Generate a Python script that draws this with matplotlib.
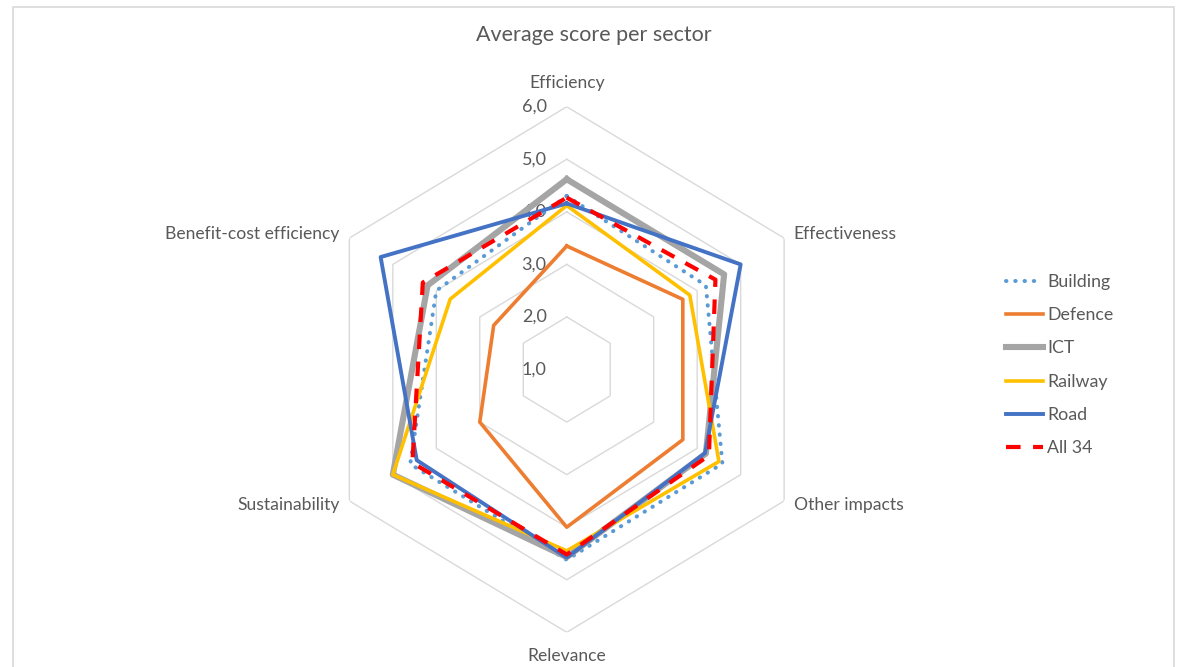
import numpy as np
import matplotlib.pyplot as plt
from matplotlib.patches import Rectangle

plt.rcParams['font.family'] = ['Lato', 'DejaVu Sans']

categories = ['Efficiency', 'Effectiveness', 'Other impacts', 'Relevance',
              'Sustainability', 'Benefit-cost efficiency']
building = [4.30, 4.20, 4.58, 4.62, 4.60, 4.00]
defence = [3.35, 3.67, 3.67, 4.00, 3.00, 2.68]
ict = [4.62, 4.62, 4.20, 4.57, 5.00, 4.20]
railway = [4.12, 3.83, 4.50, 4.45, 5.00, 3.68]
road = [4.16, 5.00, 4.18, 4.58, 4.45, 5.28]
all34 = [4.27, 4.42, 4.27, 4.52, 4.55, 4.31]
ticks = [1.0, 2.0, 3.0, 4.0, 5.0, 6.0]

text_color = '#595959'
grid_color = '#d9d9d9'

fig = plt.figure(figsize=(11.78, 6.67), dpi=100)
fig.patches.append(Rectangle((13 / 1178, -0.05), (1174 - 13) / 1178, 1.05 - 7 / 667,
                             transform=fig.transFigure, fill=False,
                             edgecolor=grid_color, linewidth=1.2))

ax = fig.add_axes([0.268, 0.052, 0.4262, 0.788], projection='polar')
ax.set_aspect('auto')
ax.set_theta_zero_location('N')
ax.set_theta_direction(-1)
ax.set_ylim(ticks[0], ticks[-1])
ax.grid(False)
ax.spines['polar'].set_visible(False)
ax.set_xticks([])
ax.set_yticks([])
ax.patch.set_alpha(0)

n = len(categories)
theta = np.arange(n) * 2 * np.pi / n
closed = np.append(theta, theta[0])

def close(vals):
    return list(vals) + [vals[0]]

# hexagonal gridlines
for t in ticks[1:]:
    ax.plot(closed, [t] * (n + 1), color=grid_color, linewidth=1.0, zorder=1)

# value labels up the vertical axis
for t in ticks:
    ax.annotate(f'{t:.1f}'.replace('.', ','), (0, t), xytext=(-14.5, 0),
                textcoords='offset points', ha='right', va='center',
                fontsize=13, color=text_color, annotation_clip=False)

ax.plot(closed, close(building), color='#5B9BD5', linewidth=2.9,
        linestyle=(0, (0.1, 2.2)), dash_capstyle='round', label='Building', zorder=3)
ax.plot(closed, close(defence), color='#ED7D31', linewidth=2.6, label='Defence', zorder=3)
ax.plot(closed, close(ict), color='#A5A5A5', linewidth=4.4, label='ICT', zorder=3)
ax.plot(closed, close(railway), color='#FFC000', linewidth=2.6, label='Railway', zorder=3)
ax.plot(closed, close(road), color='#4472C4', linewidth=2.8, label='Road', zorder=3)
ax.plot(closed, close(all34), color='#FF0000', linewidth=3.0,
        linestyle=(0, (3.5, 3.0)), label='All 34', zorder=4)

# category labels outside the outer hexagon
offsets = [(0, 11, 'center', 'bottom'), (7, 3, 'left', 'center'),
           (7, -3, 'left', 'center'), (0, -11.5, 'center', 'top'),
           (-7, -3, 'right', 'center'), (-7, 3, 'right', 'center')]
for ang, name, (dx, dy, ha, va) in zip(theta, categories, offsets):
    ax.annotate(name, (ang, ticks[-1]), xytext=(dx, dy), textcoords='offset points',
                ha=ha, va=va, fontsize=12.6, color=text_color, annotation_clip=False)

fig.text(594 / 1178, 1 - 35 / 667, 'Average score per sector', ha='center', va='center',
         fontsize=15.5, color=text_color)

leg = fig.legend(loc='upper left', bbox_to_anchor=(990 / 1178, 1 - 258 / 667),
                 frameon=False, fontsize=12.8, labelcolor=text_color,
                 handlelength=2.1, handletextpad=0.2, labelspacing=0.97)

fig.savefig('out.png', dpi=100)
